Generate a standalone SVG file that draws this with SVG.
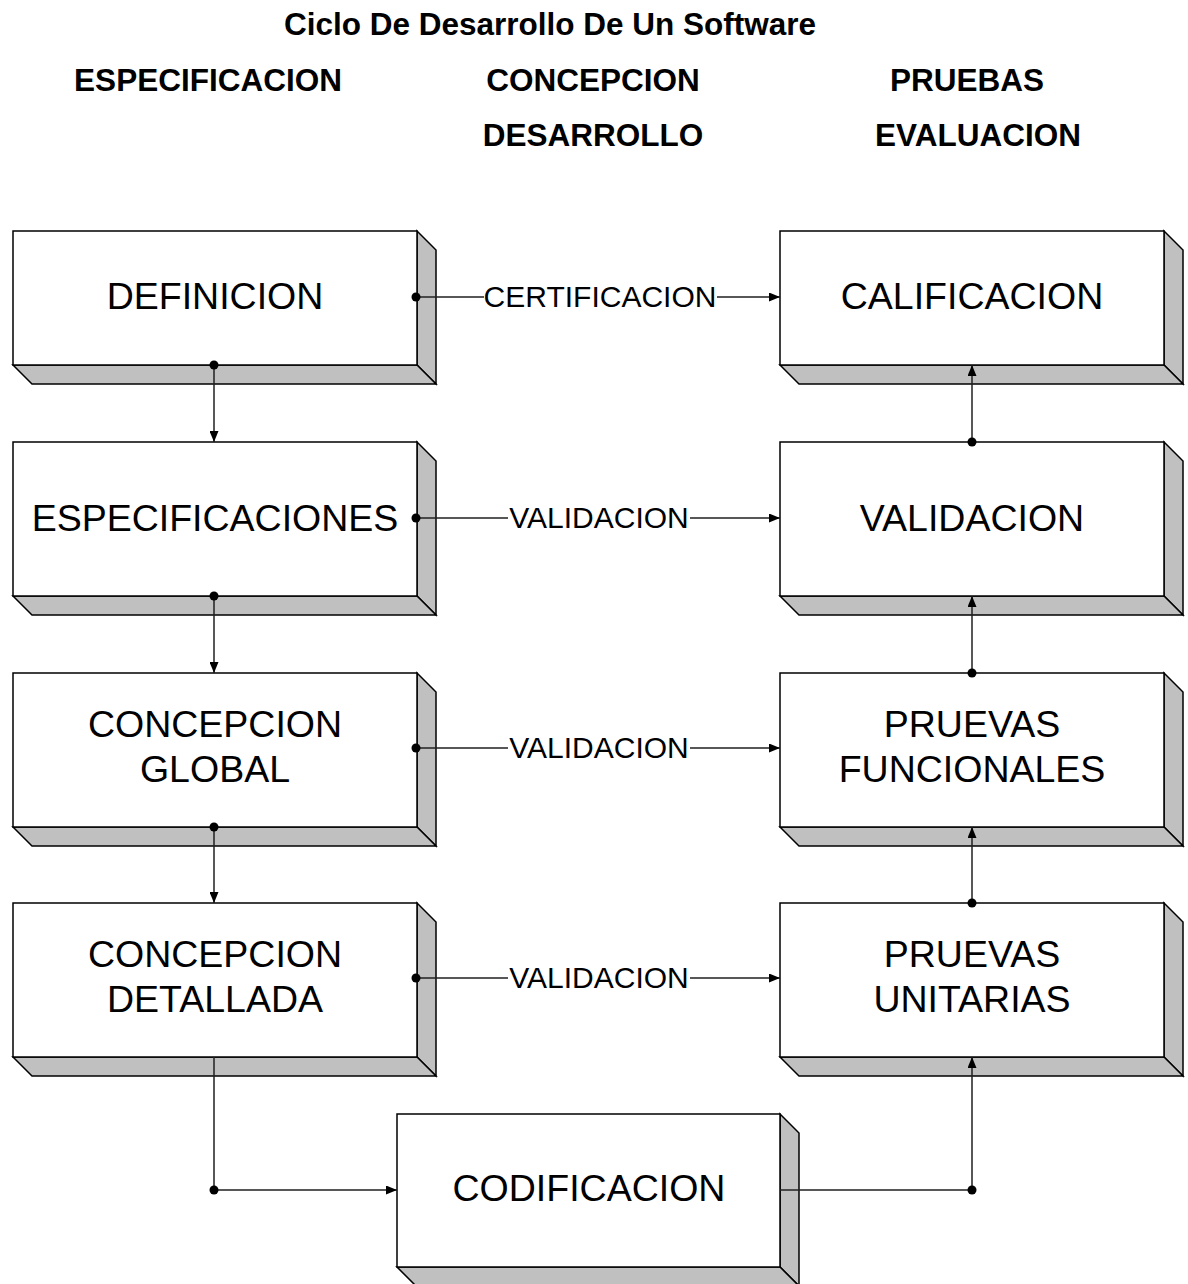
<svg xmlns="http://www.w3.org/2000/svg" width="1188" height="1284" viewBox="0 0 1188 1284">
<style>
.hd{font-family:"Liberation Sans",Arial,sans-serif;font-weight:bold;font-size:31.5px;fill:#000;text-anchor:middle}
.bt{font-family:"Liberation Sans",Arial,sans-serif;font-size:37.5px;fill:#000;text-anchor:middle}
.lb{font-family:"Liberation Sans",Arial,sans-serif;font-size:30px;fill:#000;text-anchor:middle}
.face{fill:#fff;stroke:#000;stroke-width:1.5}
.shade{fill:#c0c0c0;stroke:#000;stroke-width:1.5;stroke-linejoin:miter}
.cn{fill:none;stroke:#202020;stroke-width:1.5}
.dot{fill:#000}
</style>
<defs>
<marker id="ah" viewBox="0 0 11 9" refX="11" refY="4.5" markerWidth="11" markerHeight="9" markerUnits="userSpaceOnUse" orient="auto">
<path d="M0,0 L11,4.5 L0,9 Z" fill="#000"/>
</marker>
</defs>
<rect width="1188" height="1284" fill="#fff"/>

<g id="header">
<text class="hd" x="550" y="35">Ciclo De Desarrollo De Un Software</text>
<text class="hd" x="208" y="91">ESPECIFICACION</text>
<text class="hd" x="593" y="91">CONCEPCION</text>
<text class="hd" x="967" y="91">PRUEBAS</text>
<text class="hd" x="593" y="146">DESARROLLO</text>
<text class="hd" x="978" y="146">EVALUACION</text>
</g>

<g id="definicion">
<path class="shade" d="M417,231 L436,250 L436,384 L417,365 Z"/>
<path class="shade" d="M13,365 L417,365 L436,384 L32,384 Z"/>
<rect class="face" x="13" y="231" width="404" height="134"/>
<text class="bt" x="215" y="309">DEFINICION</text>
</g>

<g id="especificaciones">
<path class="shade" d="M417,442 L436,461 L436,615 L417,596 Z"/>
<path class="shade" d="M13,596 L417,596 L436,615 L32,615 Z"/>
<rect class="face" x="13" y="442" width="404" height="154"/>
<text class="bt" x="215" y="531">ESPECIFICACIONES</text>
</g>

<g id="concepcion-global">
<path class="shade" d="M417,673 L436,692 L436,846 L417,827 Z"/>
<path class="shade" d="M13,827 L417,827 L436,846 L32,846 Z"/>
<rect class="face" x="13" y="673" width="404" height="154"/>
<text class="bt" x="215" y="737">CONCEPCION</text>
<text class="bt" x="215" y="782">GLOBAL</text>
</g>

<g id="concepcion-detallada">
<path class="shade" d="M417,903 L436,922 L436,1076 L417,1057 Z"/>
<path class="shade" d="M13,1057 L417,1057 L436,1076 L32,1076 Z"/>
<rect class="face" x="13" y="903" width="404" height="154"/>
<text class="bt" x="215" y="967">CONCEPCION</text>
<text class="bt" x="215" y="1012">DETALLADA</text>
</g>

<g id="calificacion">
<path class="shade" d="M1164,231 L1183,250 L1183,384 L1164,365 Z"/>
<path class="shade" d="M780,365 L1164,365 L1183,384 L799,384 Z"/>
<rect class="face" x="780" y="231" width="384" height="134"/>
<text class="bt" x="972" y="309">CALIFICACION</text>
</g>

<g id="validacion">
<path class="shade" d="M1164,442 L1183,461 L1183,615 L1164,596 Z"/>
<path class="shade" d="M780,596 L1164,596 L1183,615 L799,615 Z"/>
<rect class="face" x="780" y="442" width="384" height="154"/>
<text class="bt" x="972" y="531">VALIDACION</text>
</g>

<g id="pruevas-funcionales">
<path class="shade" d="M1164,673 L1183,692 L1183,846 L1164,827 Z"/>
<path class="shade" d="M780,827 L1164,827 L1183,846 L799,846 Z"/>
<rect class="face" x="780" y="673" width="384" height="154"/>
<text class="bt" x="972" y="737">PRUEVAS</text>
<text class="bt" x="972" y="782">FUNCIONALES</text>
</g>

<g id="pruevas-unitarias">
<path class="shade" d="M1164,903 L1183,922 L1183,1076 L1164,1057 Z"/>
<path class="shade" d="M780,1057 L1164,1057 L1183,1076 L799,1076 Z"/>
<rect class="face" x="780" y="903" width="384" height="154"/>
<text class="bt" x="972" y="967">PRUEVAS</text>
<text class="bt" x="972" y="1012">UNITARIAS</text>
</g>

<g id="codificacion">
<path class="shade" d="M780,1114 L799,1133 L799,1286 L780,1267 Z"/>
<path class="shade" d="M397,1267 L780,1267 L799,1286 L416,1286 Z"/>
<rect class="face" x="397" y="1114" width="383" height="153"/>
<text class="bt" x="589" y="1201">CODIFICACION</text>
</g>

<g id="connectors">
<path class="cn" d="M416,297 H484 M717,297 H780" marker-end="url(#ah)"/>
<text class="lb" x="600" y="307">CERTIFICACION</text>
<path class="cn" d="M416,518 H508 M690,518 H780" marker-end="url(#ah)"/>
<text class="lb" x="599" y="528">VALIDACION</text>
<path class="cn" d="M416,748 H508 M690,748 H780" marker-end="url(#ah)"/>
<text class="lb" x="599" y="758">VALIDACION</text>
<path class="cn" d="M416,978 H508 M690,978 H780" marker-end="url(#ah)"/>
<text class="lb" x="599" y="988">VALIDACION</text>

<path class="cn" d="M214,365 V442" marker-end="url(#ah)"/>
<path class="cn" d="M214,596 V673" marker-end="url(#ah)"/>
<path class="cn" d="M214,827 V903" marker-end="url(#ah)"/>
<path class="cn" d="M214,1057 V1190 H397" marker-end="url(#ah)"/>

<path class="cn" d="M972,442 V365" marker-end="url(#ah)"/>
<path class="cn" d="M972,673 V596" marker-end="url(#ah)"/>
<path class="cn" d="M972,903 V827" marker-end="url(#ah)"/>
<path class="cn" d="M780,1190 H972 V1057" marker-end="url(#ah)"/>

<circle class="dot" cx="416" cy="297" r="4.5"/>
<circle class="dot" cx="416" cy="518" r="4.5"/>
<circle class="dot" cx="416" cy="748" r="4.5"/>
<circle class="dot" cx="416" cy="978" r="4.5"/>
<circle class="dot" cx="214" cy="365" r="4.5"/>
<circle class="dot" cx="214" cy="596" r="4.5"/>
<circle class="dot" cx="214" cy="827" r="4.5"/>
<circle class="dot" cx="214" cy="1190" r="4.5"/>
<circle class="dot" cx="972" cy="442" r="4.5"/>
<circle class="dot" cx="972" cy="673" r="4.5"/>
<circle class="dot" cx="972" cy="903" r="4.5"/>
<circle class="dot" cx="972" cy="1190" r="4.5"/>
</g>
</svg>
